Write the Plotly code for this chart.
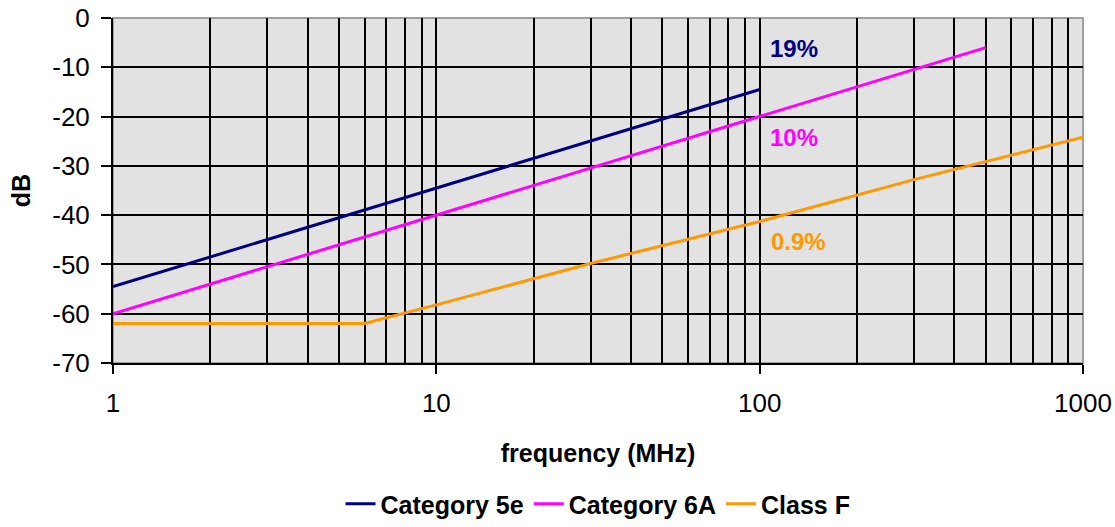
import math
import plotly.graph_objects as go

# ---- data ----
cat5e_freq = [1, 10, 100]
cat5e_db = [-54.5, -34.5, -14.5]

cat6a_freq = [1, 10, 100, 500]
cat6a_db = [-60.0, -40.0, -20.0, -6.0]

classf_freq = [1, 6, 10, 30, 100, 300, 1000]
classf_db = [-62.0, -62.0, -58.2, -49.8, -41.3, -32.8, -24.2]

series_names = ["Category 5e", "Category 6A", "Class F"]
series_colors = ["#000080", "#FF00FF", "#FF9900"]

labels = ["19%", "10%", "0.9%"]
label_freq = [128, 128, 132]
label_db = [-6.1, -24.3, -45.4]

x_major = [1, 10, 100, 1000]
x_minor = [m * d for d in (1, 10, 100) for m in range(2, 10)]
y_ticks = list(range(-70, 1, 10))

font = "Liberation Sans, Arial"

fig = go.Figure()
for name, fx, fy, col in zip(series_names,
                             [cat5e_freq, cat6a_freq, classf_freq],
                             [cat5e_db, cat6a_db, classf_db],
                             series_colors):
    fig.add_trace(go.Scatter(x=fx, y=fy, mode="lines", name="<b>%s</b>" % name,
                             line=dict(color=col, width=3)))

for t, fx, fy, col in zip(labels, label_freq, label_db, series_colors):
    fig.add_annotation(x=math.log10(fx), y=fy, xref="x", yref="y",
                       text="<b>%s</b>" % t, showarrow=False,
                       font=dict(family=font, size=24, color=col))

fig.update_layout(
    width=1115, height=527,
    margin=dict(l=113, r=32, t=18, b=164, autoexpand=False),
    paper_bgcolor="white",
    plot_bgcolor="#e2e2e2",
    font=dict(family=font, size=24, color="black"),
    showlegend=True,
    legend=dict(orientation="h", x=0.5, xanchor="center",
                yref="container", y=-0.022, yanchor="bottom",
                font=dict(family=font, size=25, color="black"),
                itemwidth=30, tracegroupgap=0),
    xaxis=dict(
        type="log", range=[0, 3], automargin=False,
        tickvals=x_major, ticktext=[str(v) for v in x_major],
        ticks="outside", ticklen=9, tickwidth=2, tickcolor="black",
        ticklabelstandoff=7, ticklabeloverflow="allow",
        showgrid=True, gridcolor="black", gridwidth=2,
        minor=dict(tickvals=x_minor, showgrid=True, gridcolor="black", gridwidth=2,
                   ticks=""),
        showline=True, linecolor="black", linewidth=2,
        zeroline=False,
        title=dict(text="<b>frequency (MHz)</b>", font=dict(size=25), standoff=27),
        tickfont=dict(size=26),
    ),
    yaxis=dict(
        range=[-70, 0], automargin=False,
        tickvals=y_ticks, ticktext=[str(v) for v in y_ticks],
        ticks="outside", ticklen=10, tickwidth=2, tickcolor="black",
        ticklabelstandoff=6, ticklabeloverflow="allow",
        showgrid=True, gridcolor="black", gridwidth=2,
        showline=True, linecolor="black", linewidth=2,
        zeroline=False,
        title=dict(text="<b>dB</b>", font=dict(size=25), standoff=14),
        tickfont=dict(size=26),
    ),
)
# plot-area outline (top/right) in grey
fig.add_shape(type="rect", xref="paper", yref="paper", x0=0, y0=0, x1=1, y1=1,
              line=dict(color="#a0a0a0", width=2), layer="below")

fig.write_html(
    "out.html",
    config={"displayModeBar": False},
    post_script="document.body.style.margin='0';document.body.style.overflow='hidden';",
)
